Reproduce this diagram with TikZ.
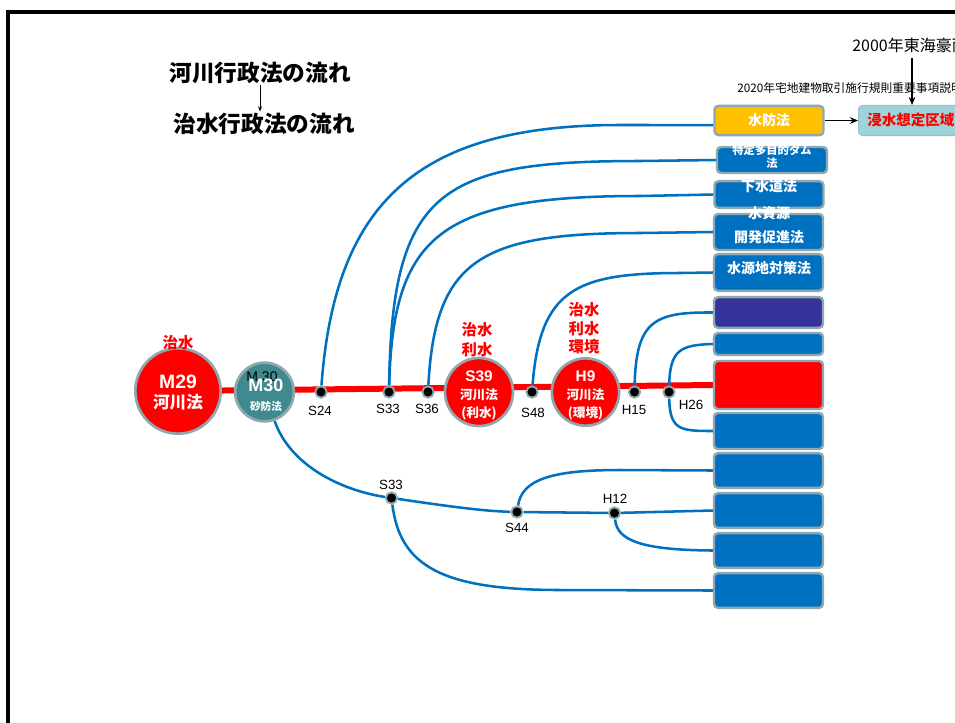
\documentclass[tikz,border=0pt]{standalone}
\usepackage{fontspec}
\setmainfont{Liberation Sans}
\newfontfamily\jp{Noto Sans CJK JP}
\usetikzlibrary{arrows.meta,calc}
\pgfdeclarelayer{back}
\pgfdeclarelayer{bg}
\pgfsetlayers{back,bg,main}
\newcommand\myfs[2]{\fontsize{#1}{#2}\selectfont}
\definecolor{cred}{HTML}{FF0000}
\definecolor{cblue}{HTML}{0070C0}
\definecolor{cyel}{HTML}{FFC000}
\definecolor{cpur}{HTML}{333399}
\definecolor{cteal}{HTML}{3E8A8E}
\definecolor{clteal}{HTML}{9DD3D9}
\definecolor{cgray}{HTML}{8FA7AE}
\begin{document}
\begin{tikzpicture}[x=0.75pt,y=-0.75pt,
  flow/.style={draw=cblue,line width=1.9pt},
  lbox/.style={draw=cgray,line width=1.8pt,rounded corners=3pt,minimum width=81.75pt,inner sep=0pt,text=white,font=\jp\bfseries\myfs{10.5}{12}},
  btext/.style={text=white,inner sep=0pt,align=center,font=\jp\bfseries\myfs{10.5}{12}},
  dot/.style={circle,fill=black,draw=cgray,line width=1.4pt,minimum size=8.5pt,inner sep=0pt},
  yr/.style={inner sep=0pt,font=\myfs{10}{12}},
  bigc/.style={circle,draw=cgray,line width=2pt,inner sep=0pt},
  ctext/.style={text=white,align=center,inner sep=0pt},
  redlab/.style={text=cred,align=center,inner sep=0pt,font=\jp\bfseries\myfs{11.5}{14}},
  title/.style={inner sep=1pt,font=\jp\bfseries\myfs{17}{20}},
  arr/.style={-{Stealth[length=6pt,width=5pt]},line width=0.8pt},
]
\begin{pgfonlayer}{back}
\fill[white] (0,0) rectangle (955,722);
\end{pgfonlayer}
\useasboundingbox (0,0) rectangle (955,722);

% frame
\draw[line width=2.3pt] (8,730) -- (8,12) -- (965,12);

% titles
\node[title] (t1) at (260,73) {河川行政法の流れ};
\node[title] (t2) at (264,124) {治水行政法の流れ};
\draw[-{Stealth[length=4pt,width=3pt]},line width=0.6pt] (t1.south) -- (t1.south |- t2.north);

% top right
\node[anchor=west,inner sep=0pt,font=\jp\myfs{12}{14}] (n2000) at (852,45) {2000年東海豪雨};
\node[anchor=west,inner sep=0pt,font=\jp\myfs{8.8}{10}] (n2020) at (737,88) {2020年宅地建物取引施行規則重要事項説明};
\node[fill=clteal,draw=clteal!80!gray,line width=0.8pt,rounded corners=3pt,minimum width=100pt,minimum height=22.5pt,anchor=west,inner sep=0pt] (flood) at (858,120.5) {};
\node[anchor=west,inner sep=0pt,text=cred,font=\jp\bfseries\myfs{10.9}{12}] (floodt) at (867,120.5) {浸水想定区域};
\coordinate (a2000) at (912,58);
\draw[arr] (a2000) -- (a2000 |- flood.north);

% boxes
\node[lbox,fill=cyel,minimum height=22pt] (b1) at (769,120.5) {水防法};
\node[lbox,fill=cblue,minimum width=82.5pt,minimum height=19.5pt] (b2) at (772,160) {};
\node[lbox,fill=cblue,minimum height=20pt] (b3) at (769,194.5) {};
\node[lbox,fill=cblue,minimum height=27pt] (b4) at (768.5,232) {};
\node[lbox,fill=cblue,minimum height=27.5pt] (b5) at (768.5,272.5) {};
\node[lbox,fill=cpur,minimum height=23pt] (b6) at (768.5,312.5) {};
\node[lbox,fill=cblue,minimum height=16.5pt] (b7) at (768.5,344) {};
\node[lbox,fill=cred,minimum height=36pt] (b8) at (768.5,385) {};
\node[lbox,fill=cblue,minimum height=27pt] (b9) at (768.5,431) {};
\node[lbox,fill=cblue,minimum height=26pt] (b10) at (768.5,470.5) {};
\node[lbox,fill=cblue,minimum height=26pt] (b11) at (768.5,510.5) {};
\node[lbox,fill=cblue,minimum height=26pt] (b12) at (768.5,550.5) {};
\node[lbox,fill=cblue,minimum height=26pt] (b13) at (768.5,590.5) {};

\node[btext,font=\jp\bfseries\myfs{8.5}{9.8}] (b2t) at (772,156.5) {特定多目的ダム\\法};
\node[btext] (b3t) at (769,186) {下水道法};
\node[btext,font=\jp\bfseries\myfs{10.5}{18}] (b4t) at (769,225) {水資源\\開発促進法};
\node[btext] (b5t) at (769,268) {水源地対策法};

\draw[arr] (b1.east) -- (flood.west);

% circles
\node[bigc,fill=cred,minimum size=64pt] (m29) at (178,391) {};
\node[ctext,font=\myfs{12}{15}] (m29t) at (178,393) {{\bfseries\myfs{14.5}{15}M29}\\{\jp\bfseries\myfs{12.5}{15}河川法}};
\node[bigc,fill=cteal,minimum size=44pt] (m30) at (264.5,392) {};
\node[inner sep=0pt,font=\myfs{10.5}{12}] (m30lab) at (262,377) {M 30};
\node[ctext,font=\myfs{8}{14}] (m30t) at (266,395) {{\bfseries\myfs{13.5}{14}M30}\\{\jp\bfseries\myfs{8}{14}砂防法}};
\node[bigc,fill=cred,minimum size=51pt] (s39) at (479,392) {};
\node[ctext,font=\myfs{9.5}{13.5}] (s39t) at (479,395) {{\bfseries\myfs{11.5}{13.5}S39}\\{\jp\bfseries 河川法}\\{\jp\bfseries (利水)}};
\node[bigc,fill=cred,minimum size=50.5pt] (h9) at (585.5,392) {};
\node[ctext,font=\myfs{9.5}{13.5}] (h9t) at (585.5,395) {{\bfseries\myfs{11.5}{13.5}H9}\\{\jp\bfseries 河川法}\\{\jp\bfseries (環境)}};

% red labels
\node[redlab] (lm29) at (178,343) {治水};
\node[redlab,font=\jp\bfseries\myfs{11.5}{15}] (ls39) at (477,340) {治水\\利水};
\node[redlab,font=\jp\bfseries\myfs{11.5}{14}] (lh9) at (584,328.5) {治水\\利水\\環境};

% dots
\node[dot] (s24) at (321,392) {};
\node[dot] (s33) at (389,392) {};
\node[dot] (s36) at (428,392) {};
\node[dot] (s48) at (532,392) {};
\node[dot] (h15) at (634.5,392) {};
\node[dot] (h26) at (669,392) {};
\node[dot] (s33b) at (391.5,498) {};
\node[dot] (s44) at (517,512) {};
\node[dot] (h12) at (614.5,513) {};

\node[yr] (ls24) at (320,411) {S24};
\node[yr] (ls33) at (388,409) {S33};
\node[yr] (ls36) at (427,409) {S36};
\node[yr] (ls48) at (533,413) {S48};
\node[yr] (lh15) at (634,410) {H15};
\node[yr] (lh26) at (691,405) {H26};
\node[yr] (ls33b) at (391,485) {S33};
\node[yr] (ls44) at (517,528) {S44};
\node[yr] (lh12) at (615,499) {H12};

% connectors
\begin{pgfonlayer}{bg}
\draw[cred,line width=4.5pt] (m29) -- (b8.west);
\draw[flow] (s24) .. controls (335,200) and (420,125) .. (620,125) -- ([yshift=-3.4pt]b1.west);
\draw[flow] (s33) .. controls (392,190) and (440,161) .. (640,161) -- (b2.west);
\draw[flow] (s33) .. controls (393,235) and (440,196) .. (640,196) -- (b3.west);
\draw[flow] (s36) .. controls (435,260) and (480,233) .. (640,233) -- (b4.west);
\draw[flow] (s48) .. controls (540,290) and (575,273) .. (680,273) -- (b5.west);
\draw[flow] (h15) .. controls (636,320) and (655,312) .. (b6.west);
\draw[flow] (h26) .. controls (670,350) and (680,345) .. (b7.west);
\draw[flow] (h26) .. controls (670,430) and (680,431) .. (b9.west);
\draw[flow] (m30) .. controls (290,465) and (340,490) .. (s33b);
\draw[flow] (s33b) .. controls (440,505) and (480,511) .. (s44) -- (h12) -- (b11.west);
\draw[flow] (s44) .. controls (522,480) and (550,470) .. (620,470) -- (b10.west);
\draw[flow] (h12) .. controls (617,540) and (640,550) .. (b12.west);
\draw[flow] (s33b) .. controls (400,565) and (440,590) .. (560,590) -- (b13.west);
\end{pgfonlayer}
\end{tikzpicture}
\end{document}
